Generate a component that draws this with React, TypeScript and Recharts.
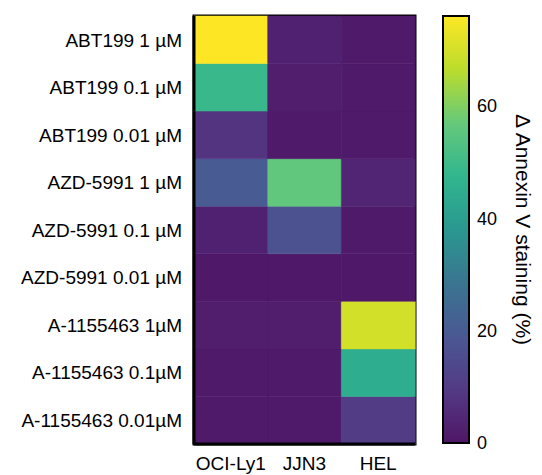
import React from 'react';
import { BarChart, Bar, Cell, XAxis, YAxis, ReferenceArea } from 'recharts';

const cellLines = ['OCI-Ly1', 'JJN3', 'HEL'];
const treatments = [
  'ABT199 1 µM',
  'ABT199 0.1 µM',
  'ABT199 0.01 µM',
  'AZD-5991 1 µM',
  'AZD-5991 0.1 µM',
  'AZD-5991 0.01 µM',
  'A-1155463 1µM',
  'A-1155463 0.1µM',
  'A-1155463 0.01µM',
];
// Δ Annexin V staining (%) per treatment, top to bottom
const ociLy1 = [76, 49, 8, 20, 3, 0.5, 2, 1, 1];
const jjn3 = [3, 2, 1, 56, 17, 0.5, 2, 1, 1];
const hel = [1, 1, 1, 4, 1, 0.5, 70, 45, 10];
const colorbarTicks = [0, 20, 40, 60];
const colorMax = 76;

const values = [ociLy1, jjn3, hel];

// viridis-like scale, tuned to the figure's tones
const stops = ['#4f1666', '#533a85', '#4a5893', '#3a7590', '#2a9890', '#31b68e', '#66c97a', '#bbdc2c', '#fde725'];

const hex = (c: string) => [1, 3, 5].map((i) => parseInt(c.slice(i, i + 2), 16));

function colorFor(v: number) {
  const t = Math.max(0, Math.min(1, v / colorMax)) * (stops.length - 1);
  const i = Math.min(stops.length - 2, Math.floor(t));
  const f = t - i;
  const a = hex(stops[i]);
  const b = hex(stops[i + 1]);
  const rgb = a.map((x, k) => Math.round(x + (b[k] - x) * f));
  return `rgb(${rgb.join(',')})`;
}

const heatData = cellLines.map((line) => {
  const row: Record<string, string | number> = { line };
  treatments.forEach((_, t) => (row[`s${t}`] = 1));
  return row;
});

const font = '"Liberation Sans", Arial, sans-serif';

export default function App() {
  const rowTicks = treatments.map((_, i) => i + 0.5);
  return (
    <div style={{ position: 'absolute', left: 0, top: 0, width: 542, height: 475, background: '#fff', fontFamily: font }}>
      <div style={{ position: 'absolute', left: 0, top: 0 }}>
        <BarChart width={420} height={475} data={heatData} margin={{ top: 16, right: 5, bottom: 1, left: 0 }} barCategoryGap={0} barGap={0}>
          <XAxis
            dataKey="line"
            height={30}
            axisLine={{ stroke: '#000', strokeWidth: 3 }}
            tickLine={false}
            tickMargin={7}
            tick={{ fontSize: 19, fill: '#000', fontFamily: font }}
          />
          <YAxis
            type="number"
            domain={[0, 9]}
            ticks={rowTicks}
            interval={0}
            width={194}
            axisLine={{ stroke: '#000', strokeWidth: 3 }}
            tickLine={false}
            tickMargin={6}
            tickFormatter={(v: number) => treatments[8 - Math.floor(v)]}
            tick={{ fontSize: 19, fill: '#000', fontFamily: font }}
          />
          {[...treatments.keys()].reverse().map((t) => (
            <Bar key={t} dataKey={`s${t}`} stackId="h" isAnimationActive={false}>
              {cellLines.map((_, c) => {
                const fill = colorFor(values[c][t]);
                return <Cell key={c} fill={fill} stroke={fill} strokeWidth={0.5} />;
              })}
            </Bar>
          ))}
          <ReferenceArea y1={0} y2={9} fill="none" stroke="#000" strokeWidth={3} ifOverflow="visible" />
        </BarChart>
      </div>
      <div style={{ position: 'absolute', left: 420, top: 0 }}>
        <BarChart width={122} height={475} data={[{ name: 'scale', v: colorMax }]} margin={{ top: 16, right: 0, bottom: 32, left: 23 }} barCategoryGap={0}>
          <defs>
            <linearGradient id="cbar" x1="0" y1="1" x2="0" y2="0">
              {stops.map((c, i) => (
                <stop key={i} offset={`${(i / (stops.length - 1)) * 100}%`} stopColor={c} />
              ))}
            </linearGradient>
          </defs>
          <XAxis dataKey="name" hide />
          <YAxis yAxisId="r" orientation="right" domain={[0, colorMax]} ticks={colorbarTicks} width={35} axisLine={false} tickLine={false} tickSize={6} tickMargin={2} tick={{ fontSize: 18, fill: '#000', fontFamily: font, textAnchor: 'start' }} />
          <YAxis
            yAxisId="t"
            orientation="right"
            domain={[0, colorMax]}
            width={38}
            axisLine={false}
            tickLine={false}
            tick={false}
            label={{ value: 'Δ Annexin V staining (%)', angle: 90, position: 'center', fontSize: 21, fill: '#000', fontFamily: font }}
          />
          <YAxis yAxisId="lm" orientation="left" mirror width={0} domain={[0, colorMax]} ticks={colorbarTicks} axisLine={false} tick={false} tickSize={4} tickLine={{ stroke: '#000', strokeWidth: 2 }} />
          <YAxis yAxisId="rm" orientation="right" mirror width={0} domain={[0, colorMax]} ticks={colorbarTicks} axisLine={false} tick={false} tickSize={4} tickLine={{ stroke: '#000', strokeWidth: 2 }} />
          <Bar yAxisId="r" dataKey="v" fill="url(#cbar)" stroke="#000" strokeWidth={2} isAnimationActive={false} />
        </BarChart>
      </div>
    </div>
  );
}
